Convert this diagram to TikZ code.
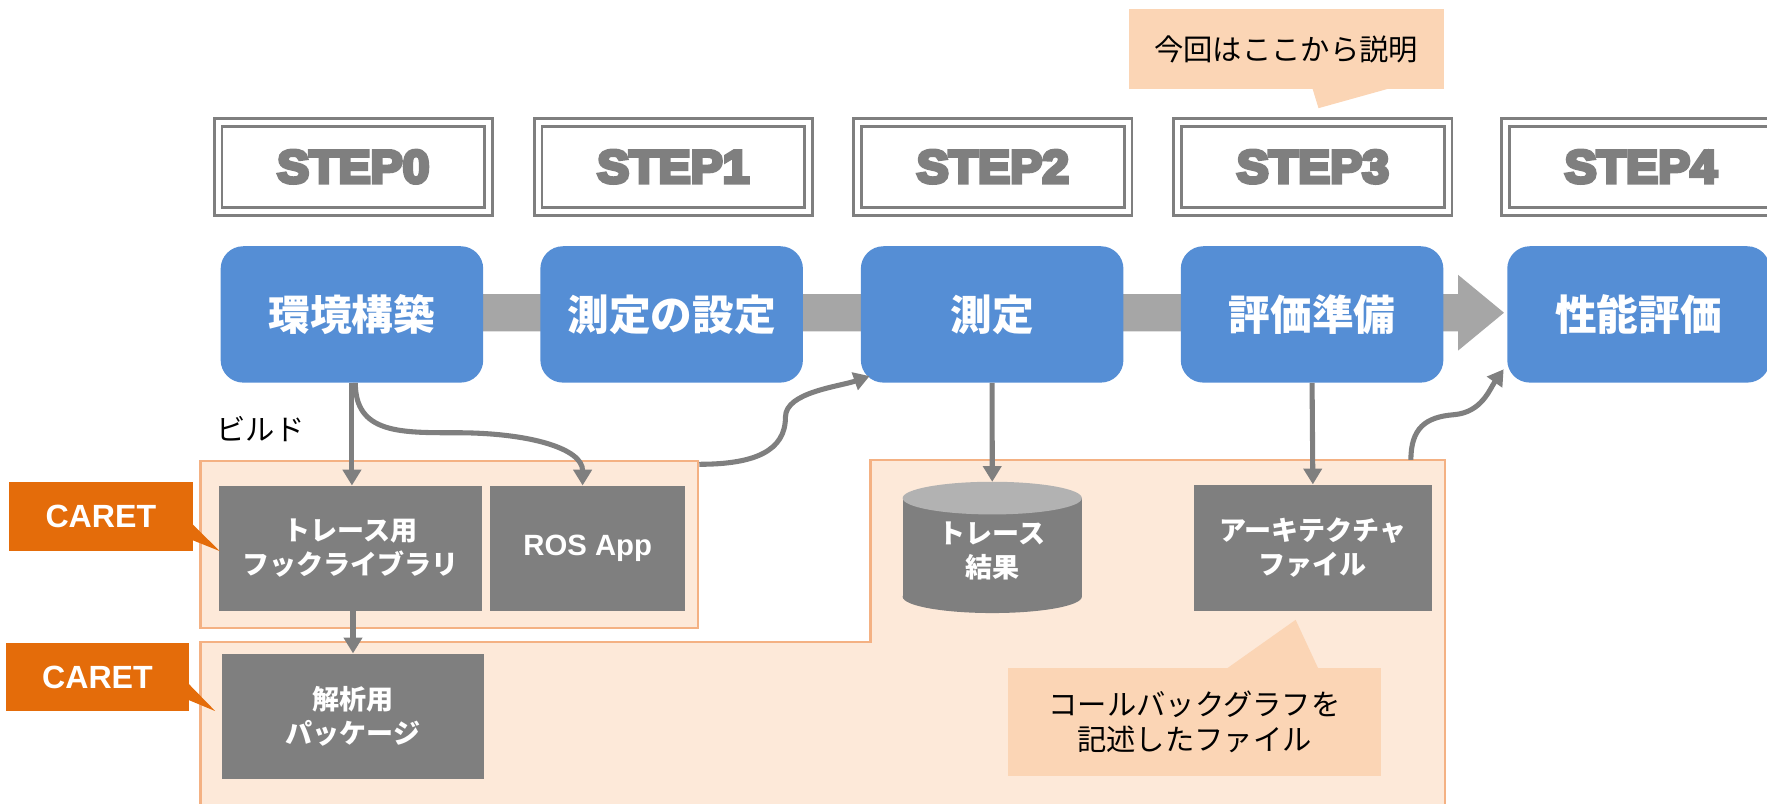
\documentclass[tikz,border=0pt]{standalone}
\usepackage{fontspec}
\setmainfont{Liberation Sans}
\newfontfamily\jp{Noto Sans CJK JP}
\newfontfamily\stepfont{Liberation Sans}[UprightFont=* Bold, FakeBold=8, FakeStretch=1.04]
\usetikzlibrary{arrows.meta}
\definecolor{bluebox}{HTML}{558ED5}
\definecolor{graybox}{HTML}{7F7F7F}
\definecolor{bargray}{HTML}{A6A6A6}
\definecolor{lightor}{HTML}{FDE9D9}
\definecolor{borderor}{HTML}{F4B183}
\definecolor{callor}{HTML}{FBD5B5}
\definecolor{caretor}{HTML}{E46C0A}
\definecolor{cyltop}{HTML}{B2B2B2}
\tikzset{
  stepbox/.style={draw=graybox, double=white, line width=2.5pt, double distance=4.5pt,
    minimum width=240pt, minimum height=79pt, inner sep=0pt, text=graybox,
    font=\stepfont\fontsize{41}{41}\selectfont},
  phase/.style={fill=bluebox, rounded corners=20pt, minimum width=233pt, minimum height=121pt,
    inner sep=0pt, text=white, font=\jp\bfseries\fontsize{37}{40}\selectfont},
  grayb/.style={fill=graybox, inner sep=0pt, text=white, align=center,
    font=\jp\bfseries\fontsize{24}{30.5}\selectfont},
  region/.style={fill=lightor, draw=borderor, line width=2pt, inner sep=0pt},
  callout/.style={fill=callor, inner sep=0pt, align=center, text=black,
    font=\jp\fontsize{26}{30.5}\selectfont},
  caret/.style={fill=caretor, inner sep=0pt, text=white,
    font=\bfseries\fontsize{28.5}{30}\selectfont},
  conn/.style={draw=graybox, line width=4.5pt, -{Triangle[width=16pt,length=14pt]}},
}
\begin{document}
\begin{tikzpicture}[x=1pt,y=-1pt]
\useasboundingbox (0,0) rectangle (1568,713);
\clip (0,0) rectangle (1568,713);

% background regions
\fill[lightor, draw=borderor, line width=2pt] (178,740) -- (178,570) -- (772.5,570) -- (772.5,408) -- (1282,408) -- (1282,740);
\coordinate (g2top) at (1252,408);
\node[region, minimum width=441.5pt, minimum height=148pt] (g1) at (398.75,483) {};

% main bar arrow
\fill[bargray] (312,261) -- (1294,261) -- (1294,244) -- (1334.6,277.5) -- (1294,311) -- (1294,294) -- (312,294) -- cycle;

% step boxes
\node[stepbox] (s0) at (313.5,148) {STEP0};
\node[stepbox] (s1) at (597.5,148) {STEP1};
\node[stepbox] (s2) at (881,148) {STEP2};
\node[stepbox] (s3) at (1165,148) {STEP3};
\node[stepbox] (s4) at (1456,148) {STEP4};

% phases
\node[phase] (p0) at (312.3,279) {環境構築};
\node[phase] (p1) at (596,279) {測定の設定};
\node[phase] (p2) at (880.4,279) {測定};
\node[phase] (p3) at (1164.3,279) {評価準備};
\node[phase] (p4) at (1454,279) {性能評価};

% top callout
\node[callout, minimum width=279.5pt, minimum height=70.7pt] (c1) at (1141.25,43.65) {今回はここから説明};
\fill[callor] (1164.5,78) -- (1170,96) -- (1234.6,78) -- cycle;

% label
\node[font=\jp\fontsize{26}{26}\selectfont, anchor=west, inner sep=0pt] (build) at (192,381) {ビルド};

% gray boxes
\node[grayb, minimum width=234pt, minimum height=111pt] (lib) at (311,486.5) {トレース用\\フックライブラリ};
\node[grayb, minimum width=173pt, minimum height=111pt, font=\bfseries\fontsize{26}{30}\selectfont] (ros) at (521.5,486.5) {ROS App};
\node[grayb, minimum width=232.5pt, minimum height=111pt] (pkg) at (313.25,635.5) {解析用\\パッケージ};
\node[grayb, minimum width=211pt, minimum height=112pt] (arch) at (1165,486) {アーキテクチャ\\ファイル};

% cylinder
\node[minimum width=159pt, minimum height=116.5pt, inner sep=0pt] (cyl) at (880.5,486) {};
\fill[graybox] (880.5,529.5) ellipse[x radius=79.5, y radius=14.5];
\fill[graybox] (801,442) rectangle (960,529.5);
\fill[cyltop] (880.5,442) ellipse[x radius=79.5, y radius=14.5];
\node[grayb, fill=none] (cyltxt) at (880.5,489) {トレース\\結果};

% bottom callout
\node[callout, minimum width=331pt, minimum height=96pt] (c2) at (1060,640.6) {コールバックグラフを\\記述したファイル};
\fill[callor] (1088,593.7) -- (1149.7,550) -- (1170,593.7) -- cycle;

% CARET callouts
\node[caret, minimum width=163pt, minimum height=61pt] (k1) at (89.5,458.5) {CARET};
\fill[caretor] (170,464.4) -- (195,489) -- (170,479) -- cycle;
\node[caret, minimum width=163pt, minimum height=60.5pt] (k2) at (86.5,600.75) {CARET};
\fill[caretor] (167,606.4) -- (191,631) -- (167,621) -- cycle;

% connectors
\draw[conn] (p0.south) -- (p0.south |- lib.north);
\draw[conn] ([xshift=3pt]p0.south) .. controls +(0,45) and (355,384) .. (405,384) .. controls (470,384) and (517,398) .. ([xshift=-4.5pt]ros.north);
\draw[conn] ([xshift=2.25pt]lib.south) -- (pkg.north);
\draw[conn] ([yshift=-4pt]g1.north east) .. controls (670,412) and (697,400) .. (697,370) .. controls (697,348) and (745,343) .. ([xshift=8pt,yshift=6pt]p2.south west);
\draw[conn] (p2.south) -- (cyl.north);
\draw[conn] (p3.south) -- (arch.north);
\draw[conn] (g2top) .. controls (1252,380) and (1265,370) .. (1290,368) .. controls (1315,366) and (1322,345) .. ([xshift=-3pt,yshift=12pt]p4.south west);
\end{tikzpicture}
\end{document}
